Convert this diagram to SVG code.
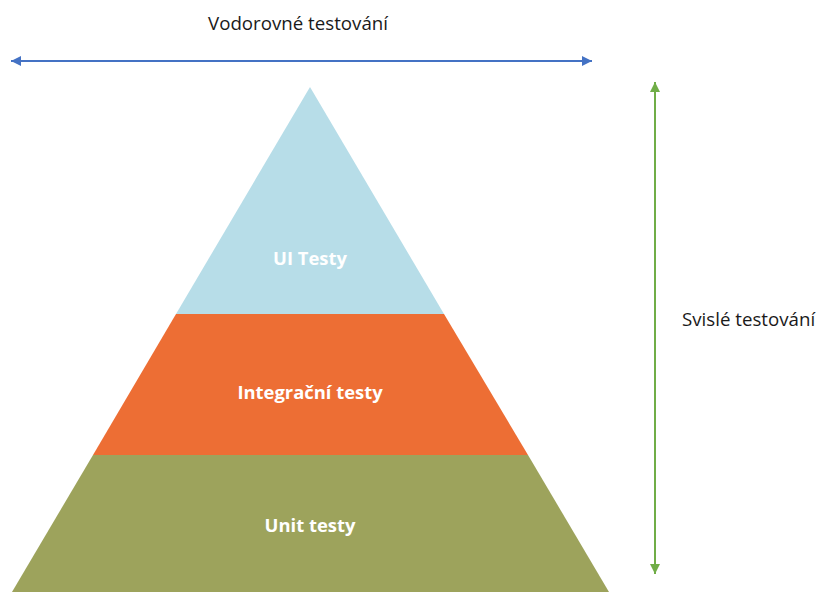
<svg xmlns="http://www.w3.org/2000/svg" width="819" height="592" viewBox="0 0 819 592">
  <style>
    .axis-label { font-family: "Open Sans", "Noto Sans", "DejaVu Sans", sans-serif; font-size: 18.7px; fill: #1a1a1a; }
    .layer-label { font-family: "Open Sans", "Noto Sans", "DejaVu Sans", sans-serif; font-size: 18.4px; font-weight: bold; fill: #ffffff; text-anchor: middle; }
  </style>
  <defs>
    <marker id="head-blue" viewBox="0 0 10 10" refX="10" refY="5" markerWidth="5" markerHeight="5" orient="auto-start-reverse" markerUnits="strokeWidth">
      <path d="M0,0 L10,5 L0,10 Z" fill="#4472C4"/>
    </marker>
    <marker id="head-green" viewBox="0 0 10 10" refX="10" refY="5" markerWidth="5" markerHeight="5" orient="auto-start-reverse" markerUnits="strokeWidth">
      <path d="M0,0 L10,5 L0,10 Z" fill="#70AD47"/>
    </marker>
  </defs>
  <rect width="819" height="592" fill="#ffffff"/>

  <!-- pyramid layers -->
  <g id="ui-tests">
    <polygon points="310,87 444,314 176,314" fill="#B7DDE8"/>
    <text class="layer-label" x="310" y="264.5">UI Testy</text>
  </g>
  <g id="integration-tests">
    <polygon points="176,314 444,314 528,455 93,455" fill="#ED6E34"/>
    <text class="layer-label" x="310" y="398.5">Integrační testy</text>
  </g>
  <g id="unit-tests">
    <polygon points="93,455 528,455 609,592 12,592" fill="#9DA35C"/>
    <text class="layer-label" x="310" y="531.5">Unit testy</text>
  </g>

  <!-- axes -->
  <g id="connectors">
    <line x1="11" y1="61" x2="592" y2="61" stroke="#4472C4" stroke-width="2" marker-start="url(#head-blue)" marker-end="url(#head-blue)"/>
    <line x1="655" y1="82" x2="655" y2="574" stroke="#70AD47" stroke-width="2" marker-start="url(#head-green)" marker-end="url(#head-green)"/>
  </g>

  <g id="horizontal-label">
    <text class="axis-label" x="208" y="30">Vodorovné testování</text>
  </g>
  <g id="vertical-label">
    <text class="axis-label" x="682" y="326">Svislé testování</text>
  </g>
</svg>
